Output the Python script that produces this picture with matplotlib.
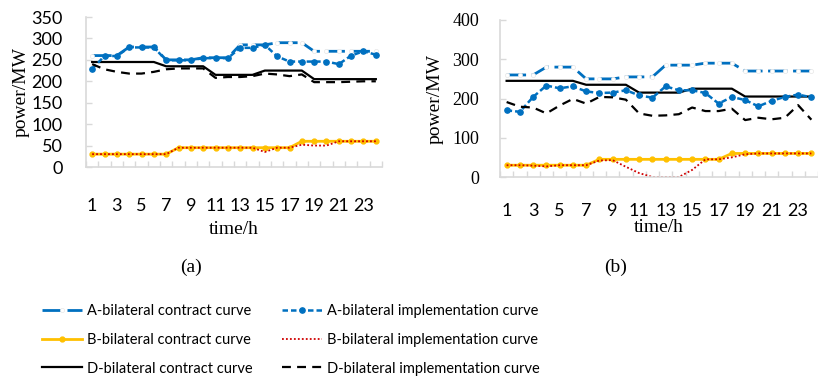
import numpy as np
import matplotlib.pyplot as plt
from matplotlib.ticker import MultipleLocator, FixedLocator

hours = np.arange(1, 25)

# ---- chart (a) ----
a_A_contract = [260, 260, 260, 280, 280, 280, 250, 250, 250, 255, 255, 255,
                285, 285, 285, 290, 290, 290, 270, 270, 270, 270, 270, 270]
a_A_impl = [229, 259, 259, 279, 279, 279, 249, 249, 249, 254, 254, 254,
            278, 278, 285, 258, 246, 246, 246, 246, 240, 260, 270, 262]
a_B_contract = [30] * 7 + [45] * 10 + [60] * 7
a_B_impl = [30, 30, 30, 30, 30, 30, 30, 45, 45, 45, 45, 45,
            45, 45, 35, 45, 45, 52, 50, 50, 60, 60, 60, 60]
a_D_contract = [245] * 6 + [235] * 4 + [215] * 4 + [225] * 4 + [205] * 6
a_D_impl = [240, 228, 222, 218, 218, 222, 228, 230, 230, 230, 208, 210,
            210, 212, 218, 216, 212, 216, 198, 198, 198, 199, 200, 200]

# ---- chart (b) ----
b_A_contract = a_A_contract
b_A_impl = [170, 166, 204, 233, 226, 231, 218, 214, 215, 221, 208, 202,
            231, 221, 221, 214, 187, 204, 196, 180, 194, 204, 210, 203]
b_B_contract = a_B_contract
b_B_impl = [30, 30, 29, 27, 30, 30, 30, 42, 43, 26, 10, 0,
            0, 0, 18, 45, 45, 50, 58, 60, 60, 60, 60, 60]
b_D_contract = a_D_contract
b_D_impl = [191, 179, 177, 162, 182, 199, 187, 204, 203, 197, 162, 156,
            157, 160, 177, 168, 168, 174, 145, 151, 147, 151, 183, 146]

labels = ['A-bilateral contract curve', 'B-bilateral contract curve',
          'D-bilateral contract curve', 'A-bilateral implementation curve',
          'B-bilateral implementation curve', 'D-bilateral implementation curve']

BLUE = '#0070C0'
ORANGE = '#FFC000'
RED = '#D00000'
GREY = '#D9D9D9'
SANS = 'Lato'
SERIF = 'Liberation Serif'

fig = plt.figure(figsize=(8.18, 3.83), dpi=100)
W, H = 818, 383


def px_axes(l, r, t, b):
    return fig.add_axes([l / W, 1 - b / H, (r - l) / W, (b - t) / H])


def draw(ax, A_c, A_i, B_c, B_i, D_c, D_i):
    hs = []
    hs.append(ax.plot(hours, A_c, color=BLUE, lw=2, dashes=(7, 2),
                      marker='o', ms=3, mfc='white', mec='#E6E6E6', mew=0.5)[0])
    hs.append(ax.plot(hours, B_c, color=ORANGE, lw=2, marker='o', ms=3.5)[0])
    hs.append(ax.plot(hours, D_c, color='black', lw=1.6)[0])
    hs.append(ax.plot(hours, A_i, color=BLUE, lw=1.8, dashes=(2.2, 1.2),
                      marker='o', ms=3.8)[0])
    hs.append(ax.plot(hours, B_i, color=RED, lw=1.3, dashes=(1, 1.2))[0])
    hs.append(ax.plot(hours, D_i, color='black', lw=1.6, dashes=(4, 2.8))[0])
    ax.set_xlim(0.5, 24.5)
    for s in ['top', 'right']:
        ax.spines[s].set_visible(False)
    for s in ['left', 'bottom']:
        ax.spines[s].set_color(GREY)
        ax.spines[s].set_linewidth(1.2)
    ax.xaxis.set_major_locator(FixedLocator(range(1, 25, 2)))
    ax.xaxis.set_minor_locator(FixedLocator(np.arange(0.5, 25, 1)))
    ax.tick_params(axis='x', which='major', length=0)
    ax.tick_params(axis='x', which='minor', length=4, direction='in',
                   color=GREY, width=1)
    ax.tick_params(axis='y', length=4, direction='in', color=GREY, width=1)
    return hs


# (a)
ax1 = px_axes(86, 382, 17, 167)
hs = draw(ax1, a_A_contract, a_A_impl, a_B_contract, a_B_impl,
          a_D_contract, a_D_impl)
ax1.set_ylim(0, 350)
ax1.yaxis.set_major_locator(MultipleLocator(50))
ax1.tick_params(axis='y', labelsize=13, pad=17)
ax1.tick_params(axis='x', which='major', labelsize=13, pad=22)
for t in ax1.get_xticklabels() + ax1.get_yticklabels():
    t.set_family(SANS)
ax1.set_xlabel('time/h', family=SERIF, fontsize=14, labelpad=5)
ax1.set_ylabel('power/MW', family=SERIF, fontsize=14, labelpad=1)

# (b)
ax2 = px_axes(500, 818, 20, 177)
draw(ax2, b_A_contract, b_A_impl, b_B_contract, b_B_impl,
     b_D_contract, b_D_impl)
ax2.set_ylim(0, 400)
ax2.yaxis.set_major_locator(MultipleLocator(100))
ax2.tick_params(axis='y', labelsize=13, pad=15)
ax2.tick_params(axis='x', which='major', labelsize=13, pad=19)
for t in ax2.get_yticklabels():
    t.set_family(SERIF)
for t in ax2.get_xticklabels():
    t.set_family(SANS)
ax2.set_xlabel('time/h', family=SERIF, fontsize=14, labelpad=0)
ax2.set_ylabel('power/MW', family=SERIF, fontsize=14, labelpad=6)

fig.text(191 / W, 1 - 267 / H, '(a)', family=SERIF, fontsize=14,
         ha='center', va='center')
fig.text(616 / W, 1 - 267 / H, '(b)', family=SERIF, fontsize=14,
         ha='center', va='center')

leg = fig.legend(hs, labels, ncol=2, loc='center left',
                 bbox_to_anchor=(42 / W, 1 - 340 / H), frameon=False,
                 prop={'family': SANS, 'size': 10.5}, handlelength=2.75,
                 handletextpad=0.35, columnspacing=2.0, labelspacing=1.0,
                 borderpad=0, borderaxespad=0)

fig.savefig('out.png', dpi=100)
